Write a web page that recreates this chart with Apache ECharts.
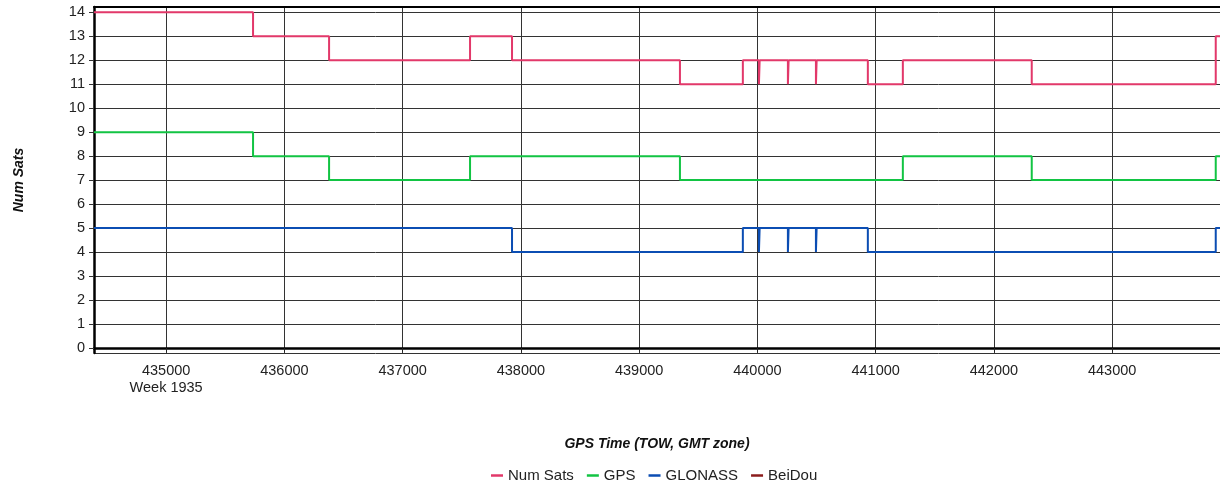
<!DOCTYPE html>
<html>
<head>
<meta charset="utf-8">
<script src="https://cdn.jsdelivr.net/npm/echarts@6/dist/echarts.min.js"></script>
<style>
  html, body { margin: 0; padding: 0; background: #fff; }
  #chart { width: 1220px; height: 485px; }
</style>
</head>
<body>
<div id="chart"></div>
<script>
// ---- Data (step change points: time of week, value from that time on) ----
const xMin = 434390;
const xMax = 443912;
const yMin = -0.21;
const yMax = 14.22;
const weekLabel = 'Week 1935';
const firstTickValue = 435000;
const seriesNames = ['Num Sats', 'GPS', 'GLONASS', 'BeiDou'];

const numSatsTimes  = [434390, 435735, 436378, 437570, 437925, 439345, 439877, 440013, 440019, 440258, 440264, 440495, 440501, 440934, 441230, 442320, 443876, 443912];
const numSatsValues = [14,     13,     12,     13,     12,     11,     12,     11,     12,     11,     12,     11,     12,     11,     12,     11,     13,     13];

const gpsTimes  = [434390, 435735, 436378, 437570, 439345, 441230, 442320, 443876, 443912];
const gpsValues = [9,      8,      7,      8,      7,      8,      7,      8,      8];

const glonassTimes  = [434390, 437925, 439877, 440013, 440019, 440258, 440264, 440495, 440501, 440934, 443876, 443912];
const glonassValues = [5,      4,      5,      4,      5,      4,      5,      4,      5,      4,      5,      5];

const beidouTimes  = [];
const beidouValues = [];

const colors = ['#E2386A', '#12C443', '#0B4DB3', '#8B1C1C'];

function pairs(t, v) { return t.map((x, i) => [x, v[i]]); }

const font = "'Liberation Sans', Arial, sans-serif";
const chart = echarts.init(document.getElementById('chart'), null, { renderer: 'canvas' });

function stepSeries(name, t, v, color) {
  return {
    name: name,
    type: 'line',
    step: 'end',
    data: pairs(t, v),
    symbol: 'none',
    showSymbol: false,
    animation: false,
    lineStyle: { color: color, width: 2 },
    itemStyle: { color: color },
    clip: true
  };
}

chart.setOption({
  animation: false,
  color: colors,
  grid: {
    left: 94, right: 0, top: 7, bottom: 132,
    show: false,
    containLabel: false
  },
  xAxis: [{
    type: 'value',
    min: xMin, max: xMax,
    minInterval: 1000, maxInterval: 1000, splitNumber: 10,
    name: 'GPS Time (TOW, GMT zone)',
    nameLocation: 'middle',
    nameGap: 84,
    nameTextStyle: { fontFamily: font, fontSize: 14, fontWeight: 'bold', fontStyle: 'italic', color: '#111' },
    axisLine: { show: true, lineStyle: { color: '#000', width: 2.5 } },
    axisTick: { show: true, length: 4, lineStyle: { color: '#222', width: 1 } },
    axisLabel: {
      show: true, showMinLabel: false, showMaxLabel: false,
      margin: 9, fontFamily: font, fontSize: 14.5, color: '#222', lineHeight: 17,
      formatter: function (val) { return val === firstTickValue ? val + '\n' + weekLabel : String(val); }
    },
    splitLine: { show: true, lineStyle: { color: '#333', width: 1 } }
  }, {
    type: 'value',
    position: 'top',
    min: xMin, max: xMax,
    axisLine: { show: true, onZero: false, lineStyle: { color: '#000', width: 2 } },
    axisTick: { show: false },
    axisLabel: { show: false },
    splitLine: { show: false }
  }],
  yAxis: {
    type: 'value',
    min: yMin, max: yMax,
    minInterval: 1, maxInterval: 1, splitNumber: 14,
    name: 'Num Sats',
    nameLocation: 'middle',
    nameGap: 68,
    nameTextStyle: { fontFamily: font, fontSize: 14, fontWeight: 'bold', fontStyle: 'italic', color: '#111' },
    axisLine: { show: true, lineStyle: { color: '#000', width: 2.5 } },
    axisTick: { show: true, length: 5, lineStyle: { color: '#333', width: 1 } },
    axisLabel: {
      show: true, showMinLabel: false, showMaxLabel: false,
      margin: 9, fontFamily: font, fontSize: 14.5, color: '#222'
    },
    splitLine: { show: true, lineStyle: { color: '#333', width: 1 } }
  },
  legend: {
    show: true,
    top: 463,
    left: 486,
    icon: 'rect',
    itemWidth: 12,
    itemHeight: 2.5,
    itemGap: 13,
    textStyle: { fontFamily: font, fontSize: 15, color: '#222', padding: [0, 0, 0, 0] },
    data: seriesNames
  },
  series: [
    stepSeries(seriesNames[0], numSatsTimes, numSatsValues, colors[0]),
    stepSeries(seriesNames[1], gpsTimes, gpsValues, colors[1]),
    stepSeries(seriesNames[2], glonassTimes, glonassValues, colors[2]),
    stepSeries(seriesNames[3], beidouTimes, beidouValues, colors[3])
  ]
});
</script>
</body>
</html>
